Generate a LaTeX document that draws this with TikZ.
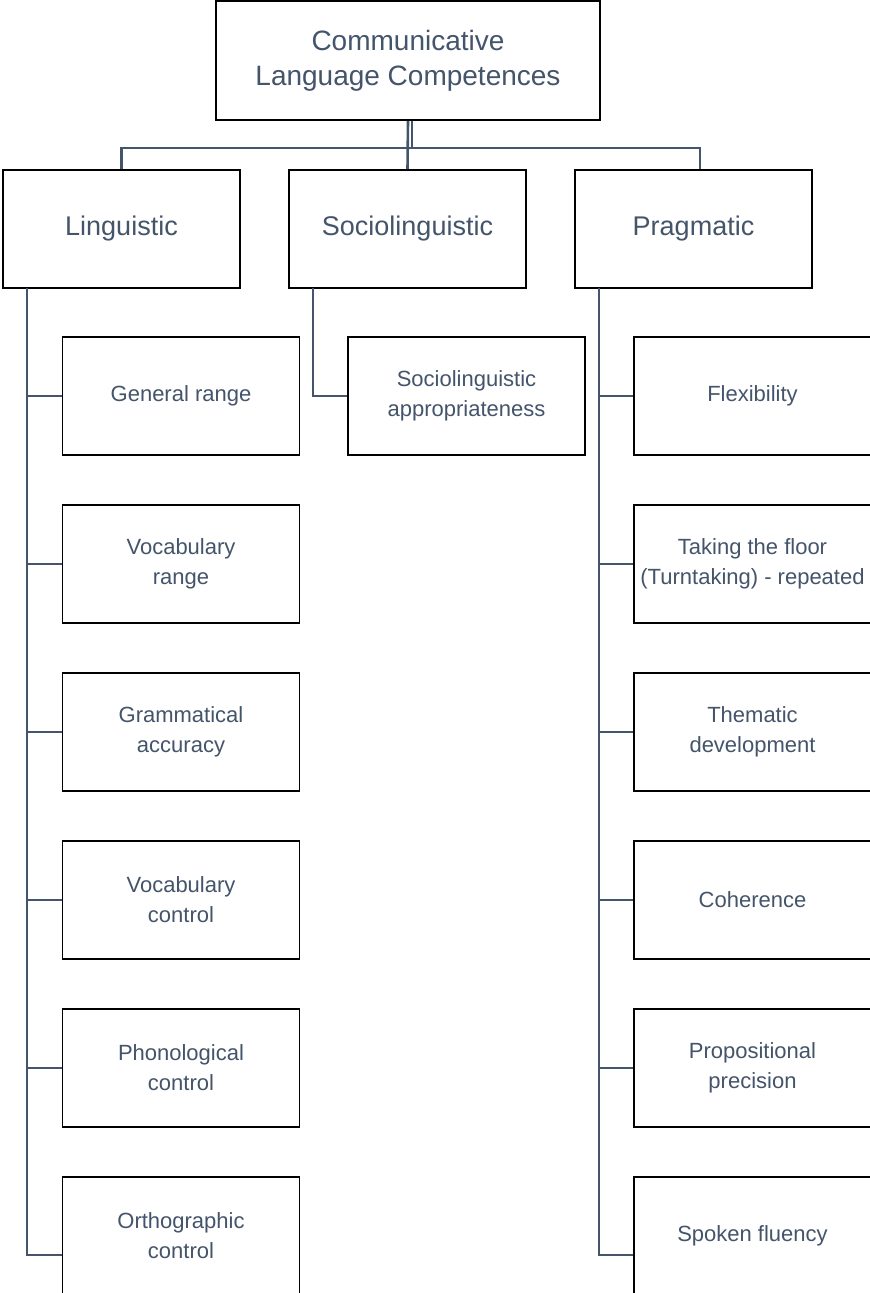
\documentclass[tikz,border=0pt]{standalone}
\usepackage{fontspec}
\setmainfont{Liberation Sans}
\definecolor{slate}{HTML}{44546A}

\begin{document}
\begin{tikzpicture}[x=1pt, y=-1pt,
    box/.style={draw=black, line width=1.6pt, fill=white, align=center, text=slate, inner sep=0pt},
    topbox/.style={box, minimum width=384pt, minimum height=119pt, font=\fontsize{28}{35}\selectfont},
    midbox/.style={box, minimum width=237pt, minimum height=118pt, font=\fontsize{27}{33}\selectfont},
    leafbox/.style={box, minimum width=237pt, minimum height=118pt, font=\fontsize{22}{30}\selectfont},
    link/.style={draw=slate, line width=2.6pt}]
			\useasboundingbox (0,0) rectangle (870,1293);

			% Nodes
			\node[topbox] (top) at (408, 60.5) {Communicative\\Language Competences};

			\node[midbox] (ling) at (121.5, 229) {Linguistic};
			\node[midbox] (soc) at (407.5, 229) {Sociolinguistic};
			\node[midbox] (prag) at (693.5, 229) {Pragmatic};

			\node[leafbox] (gen) at (181, 396) {General range};
			\node[leafbox] (voc) at (181, 564) {Vocabulary\\range};
			\node[leafbox] (gram) at (181, 732) {Grammatical\\accuracy};
			\node[leafbox] (vctl) at (181, 900) {Vocabulary\\control};
			\node[leafbox] (phon) at (181, 1068) {Phonological\\control};
			\node[leafbox] (orth) at (181, 1236) {Orthographic\\control};

			\node[leafbox] (appr) at (466.5, 396) {Sociolinguistic\\appropriateness};

			\node[leafbox] (flex) at (752.5, 396) {Flexibility};
			\node[leafbox] (floor) at (752.5, 564) {Taking the floor\\(Turntaking) - repeated};
			\node[leafbox] (them) at (752.5, 732) {Thematic\\development};
			\node[leafbox] (coh) at (752.5, 900) {Coherence};
			\node[leafbox] (prop) at (752.5, 1068) {Propositional\\precision};
			\node[leafbox] (flu) at (752.5, 1236) {Spoken fluency};

			% Spine starts
			\coordinate (lspine) at (27, 288);
			\coordinate (sspine) at (313, 288);
			\coordinate (pspine) at (599, 288);

			% Edges
			\draw[link] (top.south) -- (soc.north);
			\draw[link] ([xshift=4pt]top.south) -- ++(0,27) -| (ling.north);
			\draw[link] ([xshift=4pt]top.south) -- ++(0,27) -| ([xshift=6.5pt]prag.north);

			\foreach \n in {gen, voc, gram, vctl, phon}
				\draw[link] (lspine) |- (\n.west);
			\draw[link] (lspine) |- ([yshift=-19pt]orth.west);

			\draw[link] (sspine) |- (appr.west);

			\foreach \n in {flex, floor, them, coh, prop}
				\draw[link] (pspine) |- (\n.west);
			\draw[link] (pspine) |- ([yshift=-19pt]flu.west);
		\end{tikzpicture}
\end{document}
